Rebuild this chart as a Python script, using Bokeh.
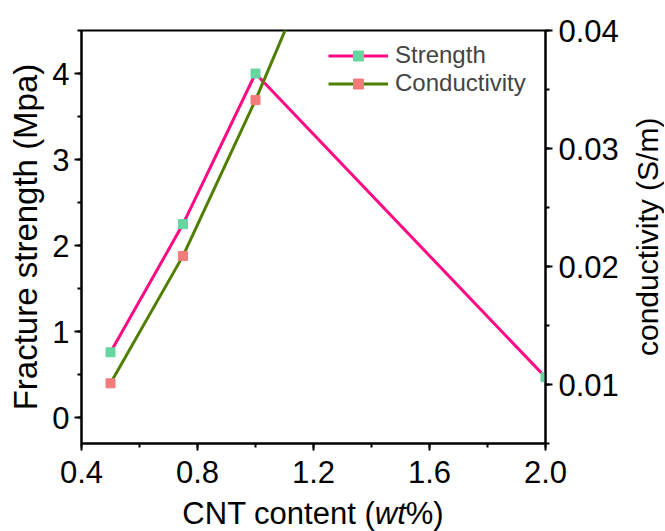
from bokeh.plotting import figure
from bokeh.layouts import column, row
from bokeh.models import (Range1d, LinearAxis, SingleIntervalTicker, PrintfTickFormatter,
                          Legend, LegendItem, Div)
from bokeh.embed import file_html
from bokeh.resources import INLINE

# Data
cnt_content = [0.5, 0.75, 1.0, 2.0]          # wt%
fracture_strength = [0.76, 2.25, 4.0, 0.47]   # Mpa
conductivity = [0.0101, 0.0209, 0.0341, 0.092]  # S/m

series_names = ["Strength", "Conductivity"]
x_label_html = "CNT content (<i>wt</i>%)"
left_label = "Fracture strength (Mpa)"
right_label = "conductivity (S/m)"

FONT = "Liberation Sans"
STR_LINE = "#ff0a82"
STR_MARK = "#66d6a0"
CON_LINE = "#4f7f00"
CON_MARK = "#f27b7b"

p = figure(width=631, height=497, output_backend="svg", toolbar_location=None,
           x_range=Range1d(0.4, 2.0), y_range=Range1d(-0.3, 4.5),
           min_border_left=81, min_border_right=86, min_border_top=30, min_border_bottom=54)
p.extra_y_ranges = {"cond": Range1d(0.005, 0.04)}
p.grid.visible = False
p.outline_line_color = "black"
p.outline_line_width = 2
p.background_fill_color = "white"
p.border_fill_color = "white"

def style_axis(ax, interval, fmt):
    ax.ticker = SingleIntervalTicker(interval=interval, num_minor_ticks=2)
    ax.formatter = PrintfTickFormatter(format=fmt)
    ax.axis_line_width = 2
    ax.axis_line_color = "black"
    ax.major_tick_line_width = 2
    ax.minor_tick_line_width = 2
    ax.major_tick_in = 0
    ax.major_tick_out = 7
    ax.minor_tick_in = 0
    ax.minor_tick_out = 4
    ax.major_label_text_font = FONT
    ax.major_label_text_font_size = "31px"
    ax.major_label_text_color = "black"
    ax.axis_label_text_font = FONT
    ax.axis_label_text_font_size = "33px"
    ax.axis_label_text_font_style = "normal"
    ax.axis_label_text_color = "black"

xax = p.xaxis[0]
style_axis(xax, 0.4, "%.1f")
xax.major_label_standoff = 10

yax = p.yaxis[0]
style_axis(yax, 1, "%d")
yax.axis_label = left_label
yax.major_label_standoff = 5
yax.axis_label_standoff = 5

rax = LinearAxis(y_range_name="cond")
style_axis(rax, 0.01, "%.2f")
rax.major_label_standoff = 6
p.add_layout(rax, "right")

# Strength series
l1 = p.line(cnt_content, fracture_strength, line_color=STR_LINE, line_width=3)
m1 = p.scatter(cnt_content, fracture_strength, marker="square", size=9,
               fill_color=STR_MARK, line_color=STR_MARK)
# Conductivity series
l2 = p.line(cnt_content, conductivity, line_color=CON_LINE, line_width=3, y_range_name="cond")
m2 = p.scatter(cnt_content, conductivity, marker="square", size=9,
               fill_color=CON_MARK, line_color=CON_MARK, y_range_name="cond")

legend = Legend(items=[LegendItem(label=series_names[0], renderers=[l1, m1]),
                       LegendItem(label=series_names[1], renderers=[l2, m2])],
                location=(247, 346), orientation="vertical")
legend.border_line_color = None
legend.background_fill_alpha = 0
legend.label_text_font = FONT
legend.label_text_font_size = "24px"
legend.glyph_width = 60
legend.glyph_height = 25
legend.label_height = 25
legend.label_standoff = 7
legend.spacing = 0
legend.padding = 0
legend.margin = 0
p.add_layout(legend, "center")

# right-axis title, reading bottom-to-top
ylabel_right = Div(text=right_label, width=34, height=473, margin=0,
                   styles={"font-family": FONT, "font-size": "30px", "line-height": "34px",
                           "writing-mode": "vertical-rl", "transform": "rotate(180deg)",
                           "text-align": "center", "color": "black", "white-space": "nowrap"})

# x-axis title with italic "wt"
xlabel = Div(text=x_label_html, width=626, height=34, margin=0,
             styles={"font-family": FONT, "font-size": "31px", "line-height": "34px",
                     "text-align": "center", "color": "black", "white-space": "nowrap",
                     "background-color": "white"})

layout = column(row(p, ylabel_right, spacing=0), xlabel, spacing=0)
open("out.html", "w").write(file_html(layout, INLINE))
